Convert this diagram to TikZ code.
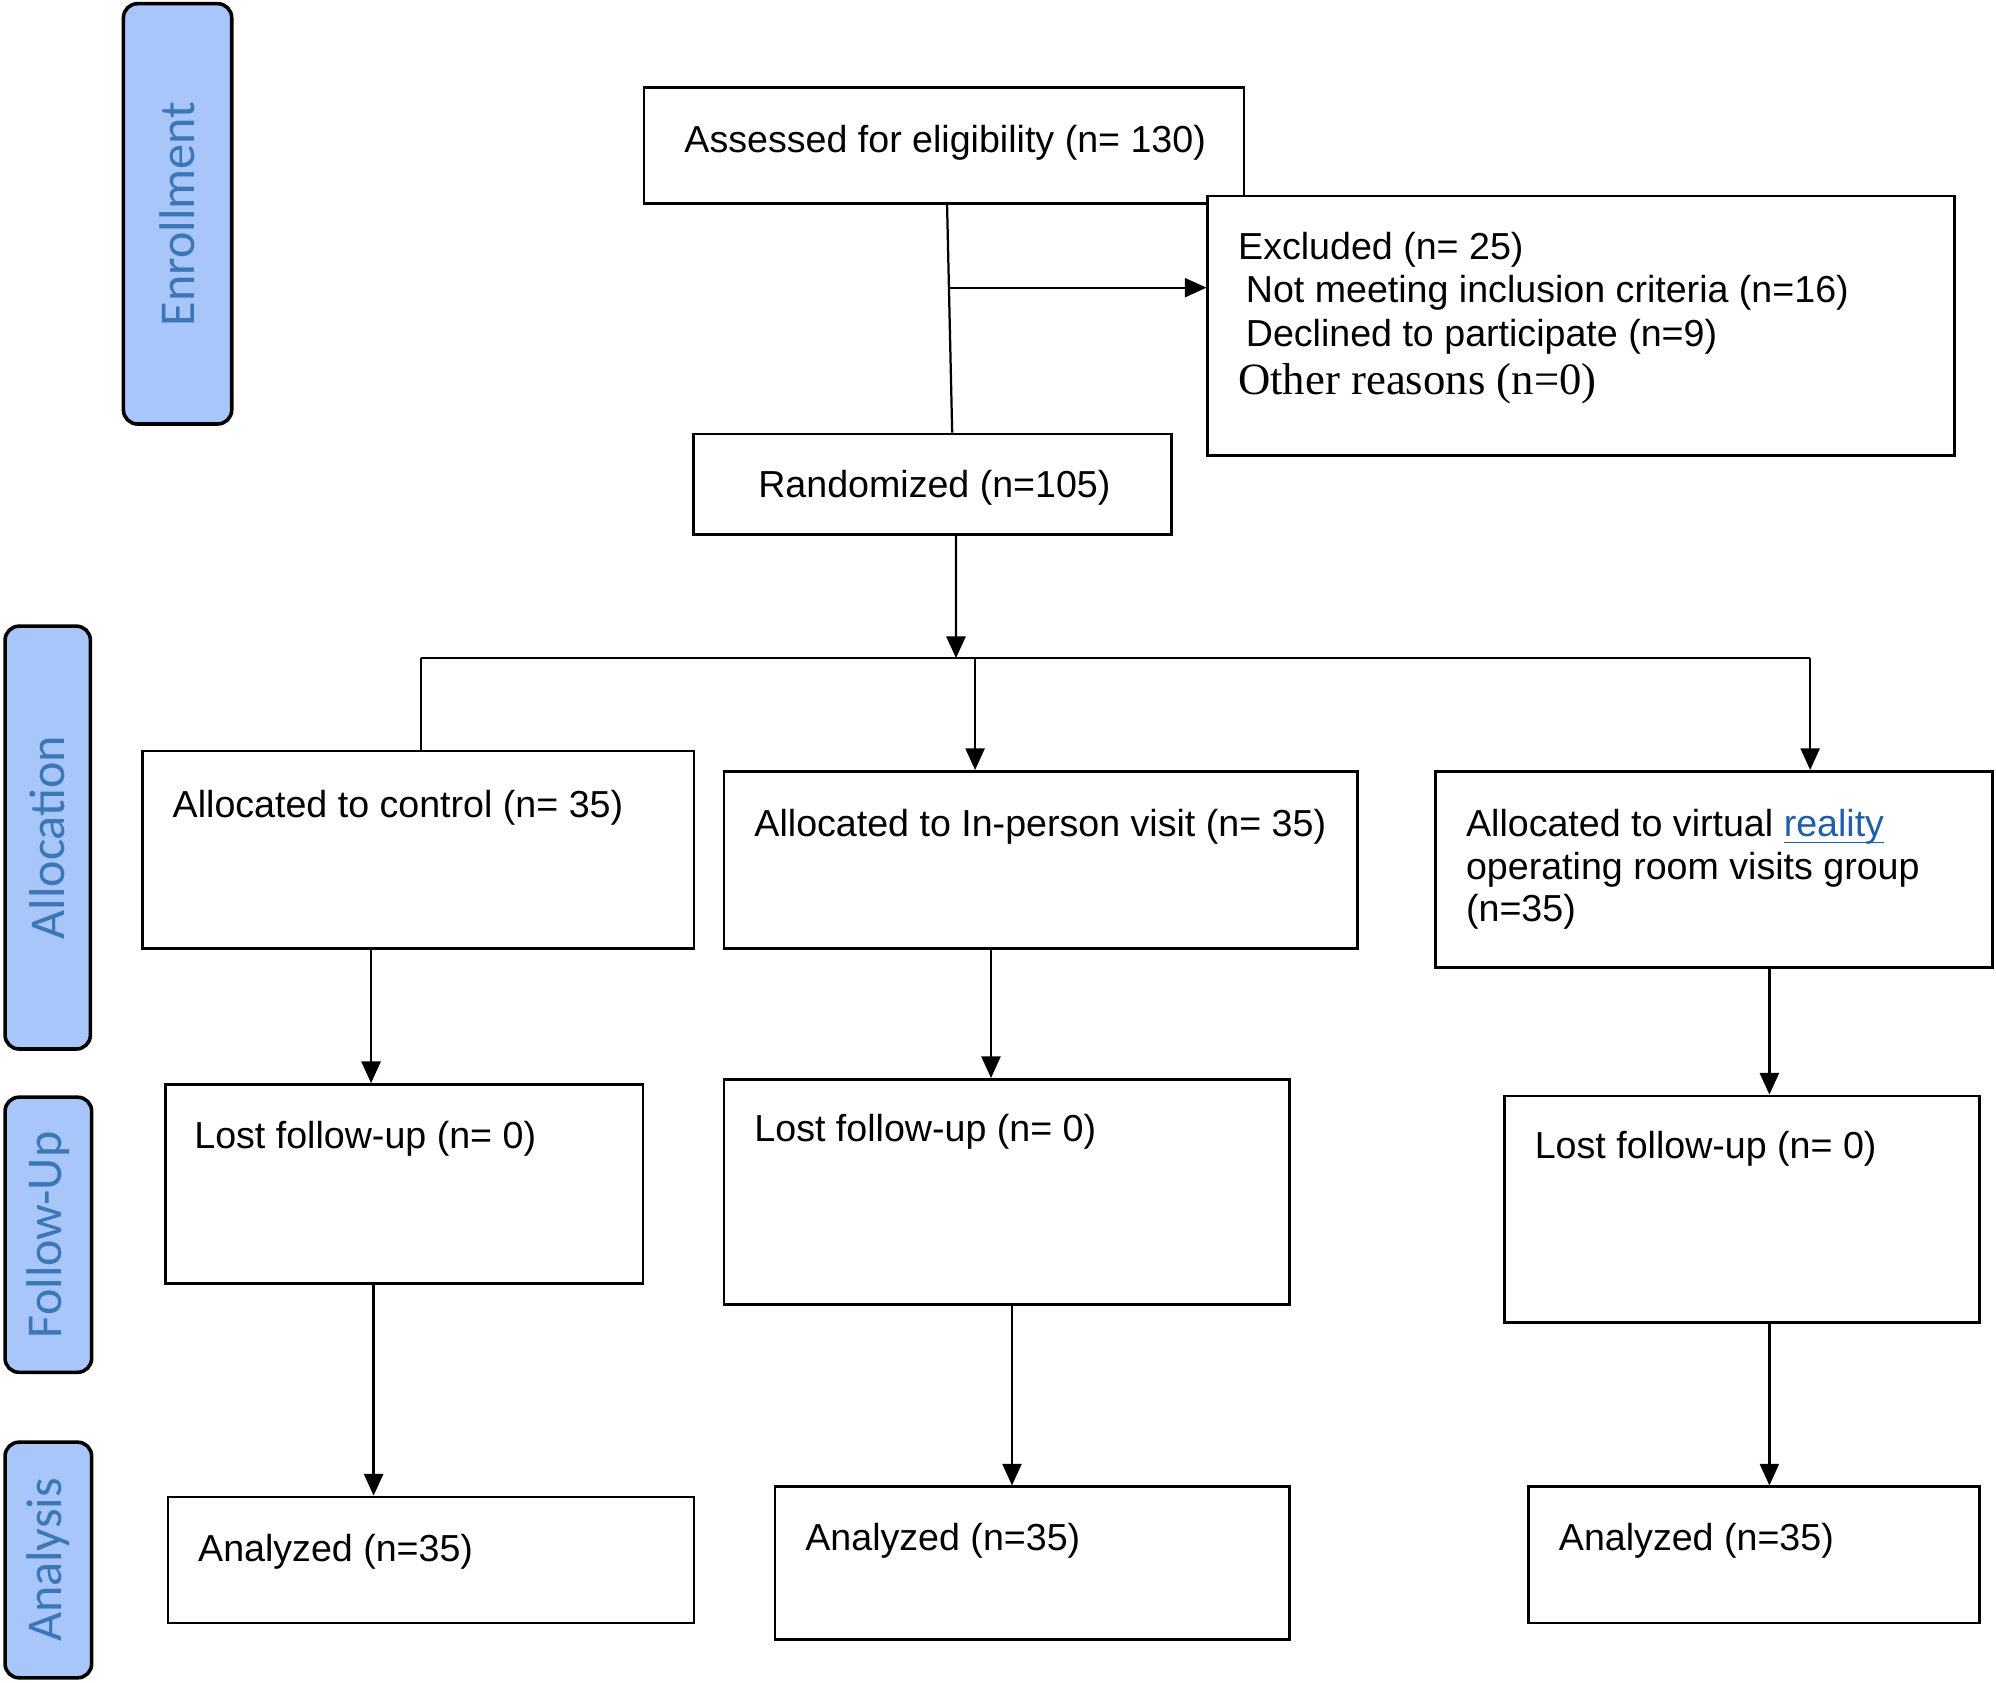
\documentclass[tikz,border=0pt]{standalone}
\usepackage{fontspec}
\setmainfont{Liberation Sans}
\newfontfamily\serifface{Liberation Serif}
\newfontfamily\tabface{Carlito}
\usetikzlibrary{arrows.meta,calc}
\definecolor{tabfill}{HTML}{A9C6FA}
\definecolor{tabtext}{HTML}{3B77B7}
\definecolor{linkblue}{HTML}{1F5FAA}
\begin{document}
\begin{tikzpicture}[x=0.01cm,y=-0.01cm,
  box/.style={draw=black,line width=0.6pt,fill=white,inner sep=0pt},
  tab/.style={draw=black,line width=0.8pt,fill=tabfill,rounded corners=0.11cm,rotate=90,
    font=\tabface\fontsize{11.2}{13}\selectfont,text=tabtext,inner sep=0pt},
  txt/.style={anchor=base west,inner sep=0pt,font=\fontsize{8.4}{10}\selectfont},
  conn/.style={line width=0.5pt},
  arr/.style={conn,-{Triangle[length=0.17cm,width=0.15cm]}}]
\useasboundingbox (0,0) rectangle (1568,1322);

% stage tabs
\node[tab,minimum width=3.30cm,minimum height=0.85cm] (tenr) at (139.5,168) {Enrollment};
\node[tab,minimum width=3.32cm,minimum height=0.67cm] (talloc) at (37.5,658) {Allocation};
\node[tab,minimum width=2.16cm,minimum height=0.68cm] (tfol) at (38,970) {Follow-Up};
\node[tab,minimum width=1.85cm,minimum height=0.68cm] (tana) at (38,1225.5) {Analysis};

% enrollment
\node[box,minimum width=4.71cm,minimum height=0.91cm] (asm) at (741.5,114.5) {};
\node[txt] (asmt) at (537,120) {Assessed for eligibility (n= 130)};

\node[box,minimum width=5.86cm,minimum height=2.04cm] (exc) at (1242,256) {};
\node[txt] (exc1) at (972,204) {Excluded (n= 25)};
\node[txt] (exc2) at (978,238) {Not meeting inclusion criteria (n=16)};
\node[txt] (exc3) at (978,272) {Declined to participate (n=9)};
\node[txt,font=\serifface\fontsize{10}{12}\selectfont] (exc4) at (972,310) {Other reasons (n=0)};

\node[box,minimum width=3.75cm,minimum height=0.79cm] (rnd) at (732.5,380.5) {};
\node[txt] (rndt) at (595,391) {Randomized (n=105)};

% allocation
\node[box,minimum width=4.33cm,minimum height=1.55cm] (ctl) at (328.5,667.5) {};
\node[txt] (ctlt) at (135,642) {Allocated to control (n= 35)};

\node[box,minimum width=4.97cm,minimum height=1.39cm] (inp) at (817.5,675.5) {};
\node[txt] (inpt) at (592,657) {Allocated to In-person visit (n= 35)};

\node[box,minimum width=4.37cm,minimum height=1.54cm] (vr) at (1346.5,683) {};
\node[txt] (vrt1) at (1151,657) {Allocated to virtual \textcolor{linkblue}{\underline{\smash{reality}}}};
\node[txt] (vrt2) at (1151,691) {operating room visits group};
\node[txt] (vrt3) at (1151,724) {(n=35)};

% follow-up
\node[box,minimum width=3.75cm,minimum height=1.56cm] (l1) at (317.5,930) {};
\node[txt] (l1t) at (152,902) {Lost follow-up (n= 0)};
\node[box,minimum width=4.44cm,minimum height=1.77cm] (l2) at (791,936.5) {};
\node[txt] (l2t) at (592,897) {Lost follow-up (n= 0)};
\node[box,minimum width=3.73cm,minimum height=1.78cm] (l3) at (1368.5,950) {};
\node[txt] (l3t) at (1205,910) {Lost follow-up (n= 0)};

% analysis
\node[box,minimum width=4.13cm,minimum height=0.99cm] (an1) at (338.5,1225.5) {};
\node[txt] (an1t) at (155,1227) {Analyzed (n=35)};
\node[box,minimum width=4.04cm,minimum height=1.20cm] (an2) at (811,1228) {};
\node[txt] (an2t) at (632,1218) {Analyzed (n=35)};
\node[box,minimum width=3.54cm,minimum height=1.07cm] (an3) at (1378,1221.5) {};
\node[txt] (an3t) at (1224,1218) {Analyzed (n=35)};

% connectors
\coordinate (j1) at (746,226);
\draw[conn] ([xshift=0.025cm]asm.south) -- ([xshift=0.155cm]rnd.north);
\draw[arr] (j1) -- (exc.west |- j1);

\coordinate (hm0) at (751,517);
\coordinate (hl) at (331,517);
\coordinate (hm) at (766,517);
\coordinate (hr) at (1422,517);
\draw[arr] ([xshift=0.185cm]rnd.south) -- (hm0);
\draw[conn] (hl) -- (hr);
\draw[conn] (hl) -- (hl |- ctl.north);
\draw[arr] (hm) -- (hm |- inp.north);
\draw[arr] (hr) -- (hr |- vr.north);

\coordinate (c1) at (291.5,0);
\coordinate (c2) at (778.5,0);
\coordinate (c3) at (1390,0);
\coordinate (d1) at (293.5,0);
\coordinate (d2) at (795,0);
\draw[arr] (ctl.south -| c1) -- (l1.north -| c1);
\draw[arr] (inp.south -| c2) -- (l2.north -| c2);
\draw[arr] (vr.south -| c3) -- (l3.north -| c3);
\draw[arr] (l1.south -| d1) -- (an1.north -| d1);
\draw[arr] (l2.south -| d2) -- (an2.north -| d2);
\draw[arr] (l3.south -| c3) -- (an3.north -| c3);
\end{tikzpicture}
\end{document}
